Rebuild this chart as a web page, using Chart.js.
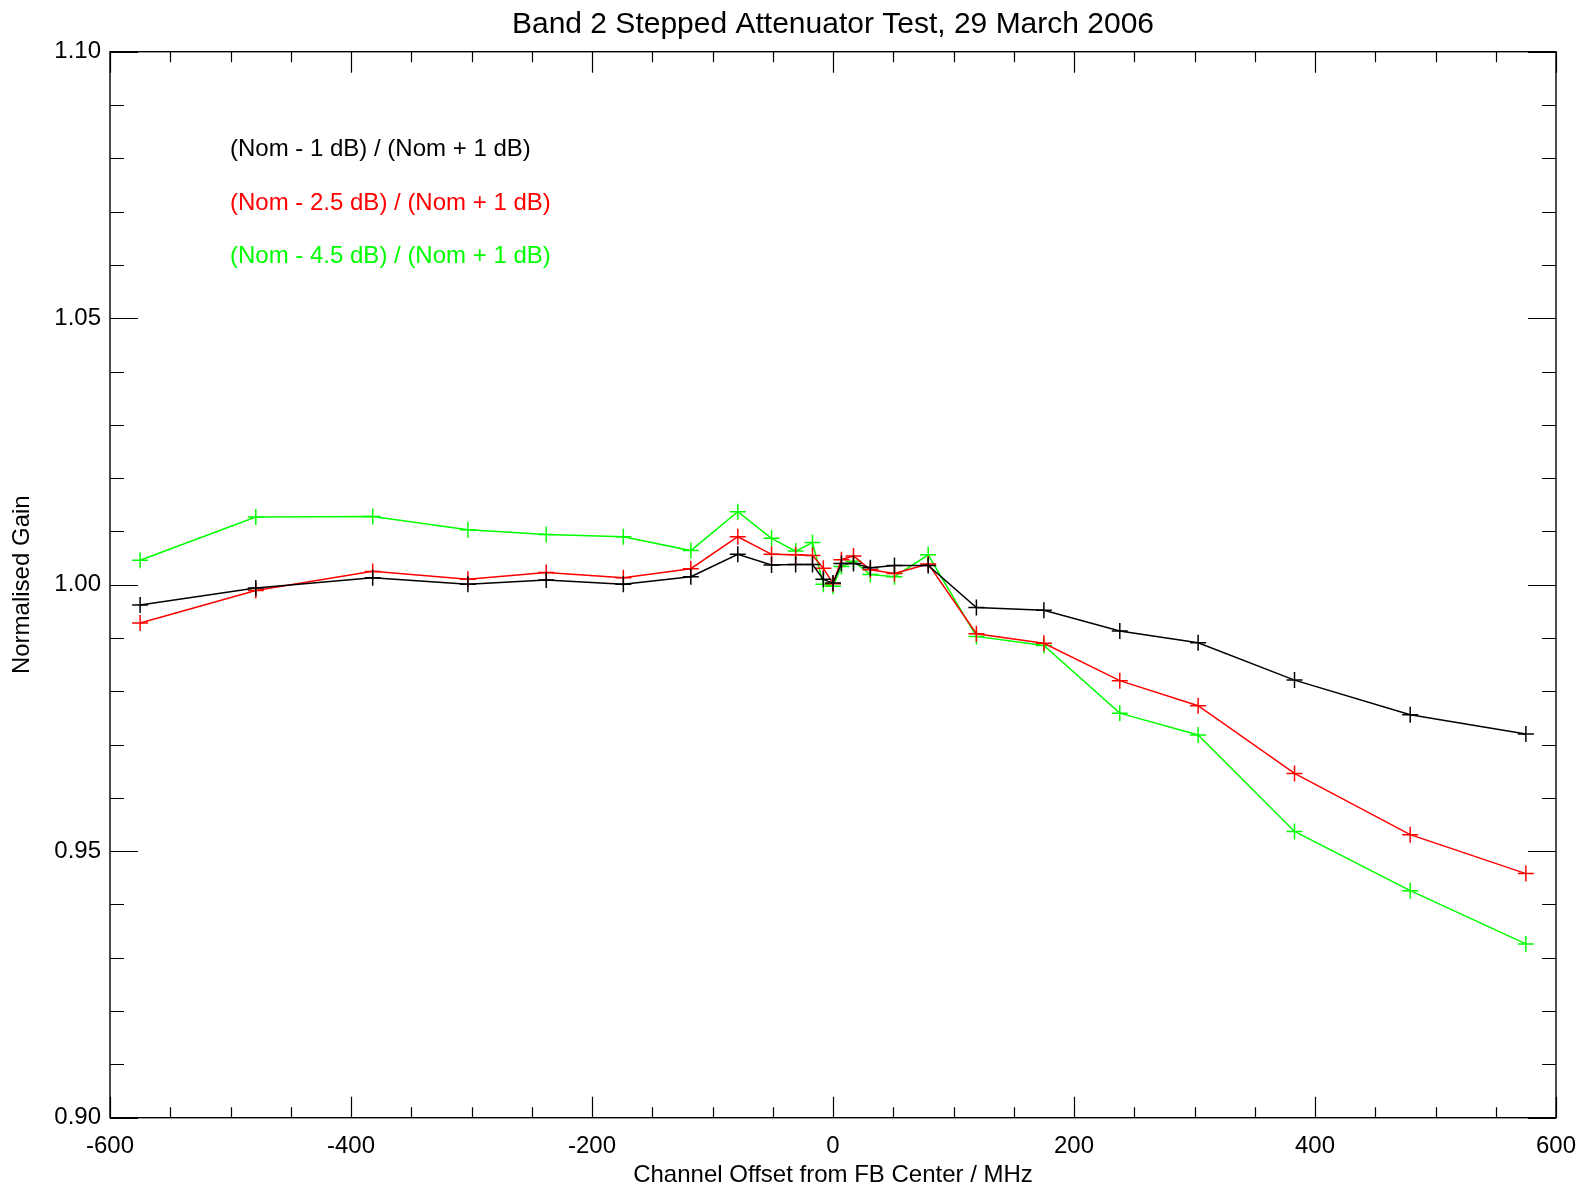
<!DOCTYPE html>
<html>
<head>
<meta charset="utf-8">
<script src="https://cdn.jsdelivr.net/npm/chart.js@4.4.1/dist/chart.umd.min.js"></script>
<style>
  html, body { margin: 0; padding: 0; background: #ffffff; }
  canvas { display: block; }
</style>
</head>
<body>
<canvas id="c" width="1585" height="1193" style="width:1585px;height:1193px"></canvas>
<script>
// ---- data ----
const chartTitle = 'Band 2 Stepped Attenuator Test, 29 March 2006';
const xAxisTitle = 'Channel Offset from FB Center / MHz';
const yAxisTitle = 'Normalised Gain';
const seriesLabels = ['(Nom - 1 dB) / (Nom + 1 dB)', '(Nom - 2.5 dB) / (Nom + 1 dB)', '(Nom - 4.5 dB) / (Nom + 1 dB)'];
const seriesColors = ['#000000', '#ff0000', '#00ff00'];

const offsets = [-575, -479, -382, -303, -238, -174, -118, -79, -51, -31, -17, -8, 0, 7, 17, 31, 51, 79, 119, 175, 238, 303, 383, 479, 575];
const gainNom1 = [0.9962, 0.9994, 1.0013, 1.0001, 1.0009, 1.0001, 1.0015, 1.0057, 1.0037, 1.0038, 1.0038, 1.0010, 1.0003, 1.0040, 1.0040, 1.0032, 1.0036, 1.0036, 0.9957, 0.9952, 0.9913, 0.9891, 0.9821, 0.9756, 0.9720];
const gainNom25 = [0.9928, 0.9989, 1.0025, 1.0010, 1.0023, 1.0013, 1.0030, 1.0090, 1.0057, 1.0056, 1.0055, 1.0031, 1.0002, 1.0047, 1.0054, 1.0028, 1.0021, 1.0039, 0.9908, 0.9890, 0.9820, 0.9773, 0.9646, 0.9531, 0.9458];
const gainNom45 = [1.0046, 1.0127, 1.0128, 1.0103, 1.0094, 1.0090, 1.0064, 1.0137, 1.0087, 1.0063, 1.0079, 1.0001, 0.9997, 1.0034, 1.0044, 1.0019, 1.0015, 1.0056, 0.9903, 0.9886, 0.9759, 0.9718, 0.9537, 0.9426, 0.9326];

const xMin = -600, xMax = 600, xMajor = 200, xMinor = 50;
const yMin = 0.90, yMax = 1.10, yMajor = 0.05, yMinor = 0.01;

// ---- font choice: prefer a true narrow sans (as in the reference), else Liberation Sans at width-matched size
function hasFont(name) {
  const ctx = document.createElement('canvas').getContext('2d');
  const t = 'abcdefghijklmnopqrstuvwxyzABCDEFGHIJ0123456789';
  let diff = false;
  ['monospace', 'serif'].forEach(g => {
    ctx.font = '40px ' + g; const w1 = ctx.measureText(t).width;
    ctx.font = "40px '" + name + "', " + g; const w2 = ctx.measureText(t).width;
    if (Math.abs(w1 - w2) > 0.5) diff = true;
  });
  return diff;
}
const narrowCandidates = ['Liberation Sans Narrow', 'Arial Narrow', 'Nimbus Sans Narrow', 'Nimbus Sans L Condensed', 'Helvetica Narrow'];
const narrow = narrowCandidates.find(hasFont);
const FONT = narrow ? "'" + narrow + "', sans-serif" : "'Liberation Sans', Arial, sans-serif";
const S = narrow ? 29 : 24;      // label size
const T = narrow ? 36 : 30;      // title size

const seriesValues = [gainNom1, gainNom25, gainNom45];
const datasets = seriesValues.map((vals, i) => ({
  label: seriesLabels[i],
  data: offsets.map((x, k) => ({ x: x, y: vals[k] })),
  borderColor: seriesColors[i],
  backgroundColor: seriesColors[i],
  borderWidth: 1.5,
  pointStyle: 'cross',
  pointRadius: 8,
  pointBorderWidth: 1.5,
  pointHoverRadius: 8,
  tension: 0,
  fill: false
}));

// frame, inward ticks (major + minor) on all four sides, and the in-plot legend text
const framePlugin = {
  id: 'frame',
  afterDatasetsDraw(chart) {
    const { ctx, chartArea: a, scales } = chart;
    const xs = scales.x, ys = scales.y;
    ctx.save();
    ctx.strokeStyle = '#000';
    ctx.lineWidth = 1.4;
    ctx.strokeRect(a.left, a.top, a.right - a.left, a.bottom - a.top);
    ctx.lineWidth = 1.2;
    ctx.beginPath();
    const nX = Math.round((xMax - xMin) / xMinor);
    for (let i = 0; i <= nX; i++) {
      const v = xMin + i * xMinor;
      const major = (i % Math.round(xMajor / xMinor)) === 0;
      const len = major ? 21 : 10.5;
      const px = Math.round(xs.getPixelForValue(v)) + 0.5;
      ctx.moveTo(px, a.bottom); ctx.lineTo(px, a.bottom - len);
      ctx.moveTo(px, a.top); ctx.lineTo(px, a.top + len);
    }
    const nY = Math.round((yMax - yMin) / yMinor);
    for (let i = 0; i <= nY; i++) {
      const v = yMin + i * yMinor;
      const major = (i % Math.round(yMajor / yMinor)) === 0;
      const len = major ? 28 : 14;
      const py = Math.round(ys.getPixelForValue(v)) + 0.5;
      ctx.moveTo(a.left, py); ctx.lineTo(a.left + len, py);
      ctx.moveTo(a.right, py); ctx.lineTo(a.right - len, py);
    }
    ctx.stroke();

    ctx.font = S + 'px ' + FONT;
    ctx.textAlign = 'left';
    ctx.textBaseline = 'middle';
    const legY = [149, 203, 256];
    seriesLabels.forEach((t, i) => {
      ctx.fillStyle = seriesColors[i];
      ctx.fillText(t, 230, legY[i]);
    });
    ctx.restore();
  }
};

new Chart(document.getElementById('c'), {
  type: 'line',
  data: { datasets: datasets },
  plugins: [framePlugin],
  options: {
    responsive: false,
    animation: false,
    devicePixelRatio: 1,
    layout: { padding: { left: 0, right: 29, top: 0, bottom: 0 } },
    plugins: {
      legend: { display: false },
      tooltip: { enabled: false },
      title: {
        display: true,
        fullSize: false,
        text: chartTitle,
        color: '#000',
        font: { family: FONT, size: T, weight: 'normal', lineHeight: 1.2 },
        padding: { top: 24.8 - 0.6 * T, bottom: 51.7 - (24.8 - 0.6 * T) - 1.2 * T }
      }
    },
    scales: {
      x: {
        type: 'linear',
        min: xMin, max: xMax,
        afterFit(scale) { scale.height = 75.3; scale.paddingLeft = 0; scale.paddingRight = 0; },
        grid: { display: false, drawTicks: false },
        border: { display: false },
        ticks: {
          stepSize: xMajor,
          padding: 28.3 - 0.6 * S,
          color: '#000',
          font: { family: FONT, size: S, lineHeight: 1.2 },
          maxRotation: 0,
          callback: (v) => String(v)
        },
        title: {
          display: true,
          text: xAxisTitle,
          color: '#000',
          font: { family: FONT, size: S, lineHeight: 1.2 },
          padding: { top: 0, bottom: Math.max(0, 17.4 - 0.6 * S) }
        }
      },
      y: {
        type: 'linear',
        min: yMin, max: yMax,
        afterFit(scale) { scale.width = 110; scale.paddingTop = 0; scale.paddingBottom = 0; },
        grid: { display: false, drawTicks: false },
        border: { display: false },
        ticks: {
          stepSize: yMajor,
          padding: 9,
          color: '#000',
          font: { family: FONT, size: S, lineHeight: 1.2 },
          callback: (v) => Number(v).toFixed(2)
        },
        title: {
          display: true,
          text: yAxisTitle,
          color: '#000',
          font: { family: FONT, size: S, lineHeight: 1.2 },
          padding: { top: 22 - 0.6 * S, bottom: 0 }
        }
      }
    }
  }
});
</script>
</body>
</html>
